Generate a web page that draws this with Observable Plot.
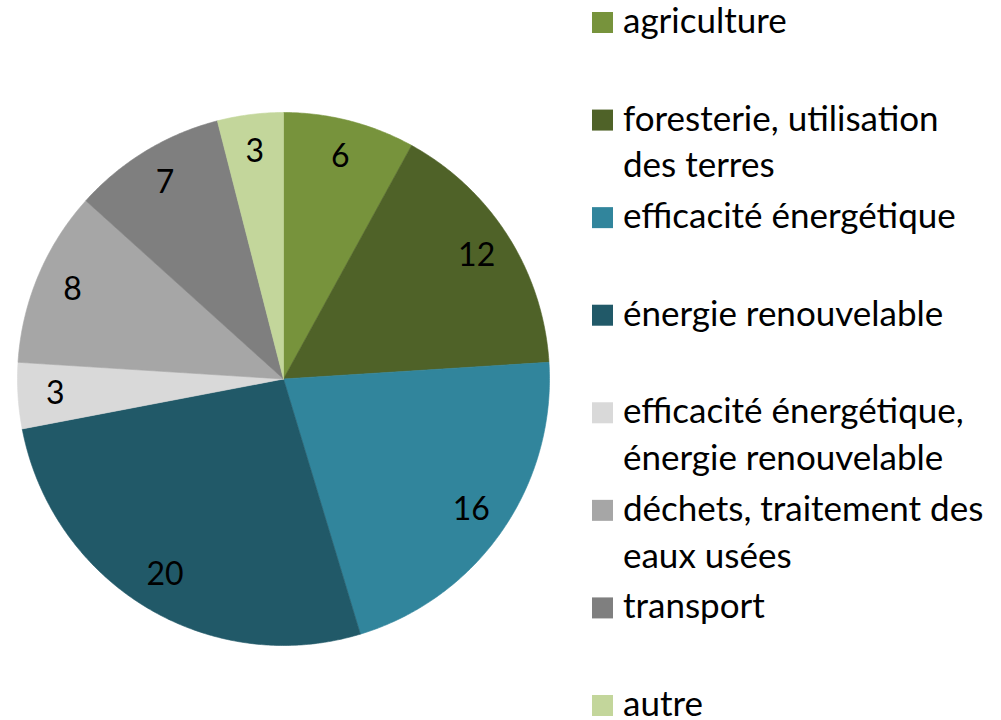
<!DOCTYPE html>
<html>
<head>
<meta charset="utf-8">
<script src="https://cdn.jsdelivr.net/npm/d3@7"></script>
<script src="https://cdn.jsdelivr.net/npm/@observablehq/plot@0.6"></script>
<style>
  html, body { margin: 0; padding: 0; background: #fff; }
  #chart { position: relative; width: 1001px; height: 720px; }
</style>
</head>
<body>
<div id="chart"></div>
<script>
const categories = [
  "agriculture",
  "foresterie, utilisation des terres",
  "efficacité énergétique",
  "énergie renouvelable",
  "efficacité énergétique, énergie renouvelable",
  "déchets, traitement des eaux usées",
  "transport",
  "autre"
];
const values = [6, 12, 16, 20, 3, 8, 7, 3];
const colors = ["#77933C", "#4F6228", "#31859C", "#215968", "#D9D9D9", "#A6A6A6", "#7F7F7F", "#C3D69B"];
const legendLines = [
  ["agriculture"],
  ["foresterie, utilisation", "des terres"],
  ["efficacité énergétique"],
  ["énergie renouvelable"],
  ["efficacité énergétique,", "énergie renouvelable"],
  ["déchets, traitement des", "eaux usées"],
  ["transport"],
  ["autre"]
];

const FONT = "Lato, 'Open Sans', sans-serif";
const W = 1001, H = 720;

// pie geometry in data units (radius = 1), clockwise from 12 o'clock
const total = d3.sum(values);
const polys = [];
const labels = [];
let acc = 0;
values.forEach((v, i) => {
  const a0 = acc / total * 2 * Math.PI;
  acc += v;
  const a1 = acc / total * 2 * Math.PI;
  const steps = Math.max(2, Math.ceil((a1 - a0) / (Math.PI / 360)));
  polys.push({cat: categories[i], x: 0, y: 0});
  for (let s = 0; s <= steps; s++) {
    const a = a0 + (a1 - a0) * s / steps;
    polys.push({cat: categories[i], x: Math.sin(a), y: Math.cos(a)});
  }
  polys.push({cat: categories[i], x: 0, y: 0});
  const am = (a0 + a1) / 2;
  const rl = 0.86;
  labels.push({cat: categories[i], value: v, x: rl * Math.sin(am), y: rl * Math.cos(am)});
});

const plot = Plot.plot({
  width: W,
  height: H,
  marginLeft: 17,
  marginRight: 452,
  marginTop: 112,
  marginBottom: 75,
  x: {domain: [-1, 1], axis: null},
  y: {domain: [-1, 1], axis: null},
  color: {type: "ordinal", domain: categories, range: colors},
  style: {fontFamily: FONT, background: "white", overflow: "visible"},
  marks: [
    Plot.line(polys, {x: "x", y: "y", z: "cat", fill: "cat", stroke: "cat", strokeWidth: 0.6, curve: "linear"}),
    Plot.text(labels, {x: "x", y: "y", text: "value", fill: "black", fontSize: 32, textAnchor: "middle", lineAnchor: "middle"})
  ]
});

const container = document.getElementById("chart");
container.appendChild(plot);

// legend (added to the SVG)
const svg = d3.select(plot.tagName.toLowerCase() === "svg" ? plot : plot.querySelector("svg"));
const lg = svg.append("g")
  .attr("font-family", FONT)
  .attr("font-size", 35)
  .attr("text-anchor", "start")
  .attr("fill", "#000");
const step = 97.57;
legendLines.forEach((lines, i) => {
  const top = 12 + i * step;
  lg.append("rect").attr("x", 592).attr("y", top).attr("width", 21).attr("height", 21).attr("fill", colors[i]);
  lines.forEach((t, j) => {
    lg.append("text").attr("x", 623).attr("y", top + 21 + j * 46.7).text(t);
  });
});
</script>
</body>
</html>
